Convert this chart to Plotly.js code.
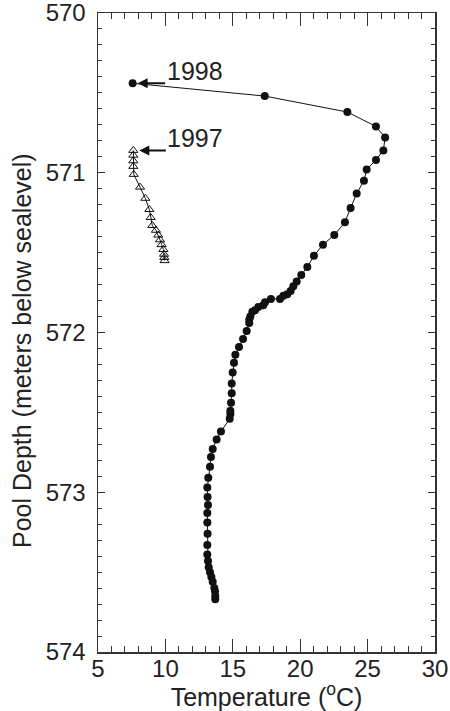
<!DOCTYPE html>
<html>
<head>
<meta charset="utf-8">
<script src="https://cdn.plot.ly/plotly-3.0.1.min.js"></script>
<style>html,body{margin:0;padding:0;background:#fff;}#chart{width:450px;height:711px;}</style>
</head>
<body>
<div id="chart"></div>
<script>
// 1998 profile (filled circles)
var temp1998 = [7.57, 17.37, 23.5, 25.62, 26.3, 26.17, 25.62, 24.93, 24.73, 24.19, 23.74, 23.32, 22.53, 21.69, 21.02, 20.53, 20.08, 19.74, 19.49, 19.29, 19.04, 18.75, 18.5, 17.83, 17.39, 17.26, 16.89, 16.65, 16.45, 16.3, 16.22, 16.22, 16.03, 15.76, 15.46, 15.19, 15.09, 14.99, 14.92, 14.92, 14.87, 14.82, 14.82, 14.77, 14.12, 13.8, 13.51, 13.38, 13.31, 13.18, 13.11, 13.13, 13.16, 13.11, 13.11, 13.13, 13.11, 13.11, 13.16, 13.21, 13.31, 13.41, 13.51, 13.63, 13.68, 13.7, 13.7];
var depth1998 = [570.44, 570.52, 570.62, 570.71, 570.78, 570.86, 570.92, 570.98, 571.05, 571.13, 571.22, 571.31, 571.39, 571.45, 571.52, 571.59, 571.64, 571.68, 571.71, 571.74, 571.76, 571.77, 571.79, 571.79, 571.81, 571.83, 571.84, 571.86, 571.87, 571.90, 571.92, 571.94, 571.99, 572.04, 572.09, 572.14, 572.19, 572.25, 572.32, 572.38, 572.44, 572.49, 572.51, 572.54, 572.62, 572.67, 572.73, 572.78, 572.84, 572.91, 572.97, 573.03, 573.08, 573.13, 573.19, 573.26, 573.33, 573.39, 573.43, 573.47, 573.50, 573.53, 573.56, 573.60, 573.62, 573.65, 573.67];
// 1997 profile (open triangles)
var temp1997 = [7.62, 7.62, 7.62, 7.62, 7.65, 8.12, 8.51, 8.81, 8.91, 9.03, 9.3, 9.47, 9.6, 9.72, 9.85, 9.9, 9.92, 9.94];
var depth1997 = [570.86, 570.89, 570.925, 570.96, 571.01, 571.09, 571.16, 571.23, 571.28, 571.33, 571.36, 571.39, 571.42, 571.45, 571.48, 571.51, 571.53, 571.55];
var seriesLabels = ['1998', '1997'];
var xTicks = [5, 10, 15, 20, 25, 30];
var yTicks = [570, 571, 572, 573, 574];
var xTitle = 'Temperature (<sup>o</sup>C)';
var yTitle = 'Pool Depth (meters below sealevel)';

var FONT = 'Liberation Sans, Arial, Helvetica, sans-serif';
var INK = '#222';

var traces = [
  {x: temp1998, y: depth1998, type: 'scatter', mode: 'lines+markers', name: seriesLabels[0],
   line: {color: '#111', width: 1}, marker: {symbol: 'circle', size: 8, color: '#111'}},
  {x: temp1997, y: depth1997, type: 'scatter', mode: 'lines+markers', name: seriesLabels[1],
   line: {color: '#111', width: 1}, marker: {symbol: 'triangle-up-open', size: 8, color: '#111', line: {width: 1}}}
];

var layout = {
  width: 450, height: 711,
  margin: {l: 98, r: 15, t: 13, b: 59},
  paper_bgcolor: '#fff', plot_bgcolor: '#fff',
  showlegend: false,
  font: {family: FONT, color: INK, size: 24},
  xaxis: {
    range: [5, 30], tickvals: xTicks, ticktext: xTicks.map(String),
    ticks: 'inside', ticklen: 13, tickwidth: 1, tickcolor: '#333',
    minor: {dtick: 1, ticks: 'inside', ticklen: 6, tickwidth: 1, tickcolor: '#333'},
    showline: true, linecolor: '#333', linewidth: 1.5, mirror: 'ticks',
    showgrid: false, zeroline: false,
    ticklabelstandoff: -5, ticklabeloverflow: 'allow',
    tickfont: {size: 24, family: FONT, color: INK},
    title: {text: xTitle, font: {size: 25, family: FONT, color: INK}, standoff: 6}
  },
  yaxis: {
    range: [574, 570], tickvals: yTicks, ticktext: yTicks.map(String),
    ticks: 'inside', ticklen: 7, tickwidth: 1, tickcolor: '#333',
    minor: {dtick: 0.1, ticks: 'inside', ticklen: 4, tickwidth: 1, tickcolor: '#333'},
    showline: true, linecolor: '#333', linewidth: 1.5, mirror: 'ticks',
    showgrid: false, zeroline: false,
    ticklabelstandoff: 6, ticklabeloverflow: 'allow',
    tickfont: {size: 24, family: FONT, color: INK}
  },
  annotations: [
    {xref: 'paper', yref: 'paper', x: -0.2255, y: 0.471, xanchor: 'center', yanchor: 'middle',
     text: yTitle, textangle: -90, showarrow: false, font: {size: 25, family: FONT, color: INK}},
    {x: temp1998[0], y: depth1998[0], xref: 'x', yref: 'y', text: '', showarrow: true,
     ax: 34, ay: 0, arrowhead: 2, arrowsize: 1, arrowwidth: 2, arrowcolor: '#111', standoff: 5},
    {x: temp1998[0], y: depth1998[0], xref: 'x', yref: 'y', text: seriesLabels[0], showarrow: false,
     xanchor: 'left', yanchor: 'bottom', xshift: 32, yshift: -4, font: {size: 25, family: FONT, color: INK}},
    {x: temp1997[0], y: depth1997[0], xref: 'x', yref: 'y', text: '', showarrow: true,
     ax: 34, ay: 0, arrowhead: 2, arrowsize: 1, arrowwidth: 2, arrowcolor: '#111', standoff: 6},
    {x: temp1997[0], y: depth1997[0], xref: 'x', yref: 'y', text: seriesLabels[1], showarrow: false,
     xanchor: 'left', yanchor: 'bottom', xshift: 32, yshift: -4, font: {size: 25, family: FONT, color: INK}}
  ]
};

Plotly.newPlot('chart', traces, layout, {displayModeBar: false, staticPlot: true});
</script>
</body>
</html>
